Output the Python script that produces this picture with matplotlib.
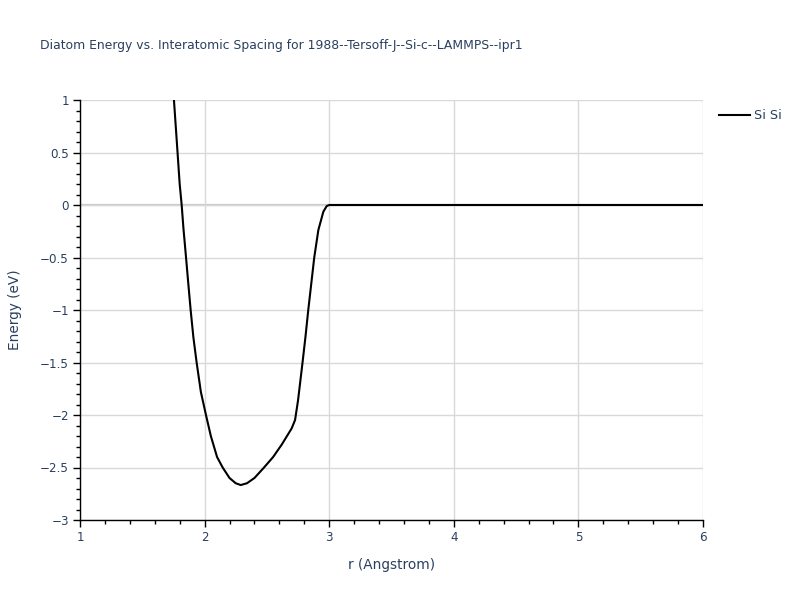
import matplotlib
matplotlib.use("Agg")
import matplotlib.pyplot as plt
from matplotlib.ticker import MultipleLocator, FuncFormatter

r_vals = [1.754, 1.78, 1.80, 1.816, 1.83, 1.851, 1.87, 1.888, 1.91, 1.936, 1.97, 2.011,
          2.05, 2.10, 2.145, 2.20, 2.25, 2.29, 2.34, 2.40, 2.471, 2.55, 2.62, 2.699,
          2.726, 2.75, 2.786, 2.81, 2.832, 2.856, 2.880, 2.913, 2.953, 2.98, 3.0, 6.0]
energy_vals = [1.0, 0.55, 0.20, 0.0, -0.22, -0.5, -0.76, -1.0, -1.26, -1.5, -1.78, -2.0,
               -2.2, -2.40, -2.5, -2.60, -2.65, -2.667, -2.65, -2.60, -2.508, -2.40, -2.28, -2.127,
               -2.048, -1.86, -1.5, -1.25, -1.0, -0.75, -0.5, -0.238, -0.064, -0.01, 0.0, 0.0]
series_name = "Si Si"
title = "Diatom Energy vs. Interatomic Spacing for 1988--Tersoff-J--Si-c--LAMMPS--ipr1"

plt.rcParams['font.family'] = ['DejaVu Sans']
text_color = "#2a3f5f"
grid_color = "#d9d9d9"

fig = plt.figure(figsize=(8, 6), dpi=100)
ax = fig.add_axes([0.1, 1 - 520 / 600, (703 - 80) / 800, 420 / 600])

ax.plot(r_vals, energy_vals, color="black", lw=1.5, label=series_name, zorder=3, clip_on=True)

ax.set_xlim(1, 6)
ax.set_ylim(-3, 1)
ax.xaxis.set_major_locator(MultipleLocator(1))
ax.xaxis.set_minor_locator(MultipleLocator(0.2))
ax.yaxis.set_major_locator(MultipleLocator(0.5))
ax.yaxis.set_minor_locator(MultipleLocator(0.1))

def fmt(v, pos):
    s = ("%g" % v)
    return s.replace("-", "\u2212")
ax.yaxis.set_major_formatter(FuncFormatter(fmt))
ax.xaxis.set_major_formatter(FuncFormatter(fmt))

ax.grid(True, which="major", color=grid_color, lw=1.0, zorder=0)
ax.axhline(0, color="#c8c8c8", lw=1.6, zorder=1)
for s in ["top", "right"]:
    ax.spines[s].set_visible(False)
for s in ["left", "bottom"]:
    ax.spines[s].set_color("black")
    ax.spines[s].set_linewidth(1.0)

ax.tick_params(which="major", direction="out", length=5, width=1, color="black",
               labelsize=8.6, labelcolor=text_color, pad=3)
ax.tick_params(which="minor", direction="out", length=3, width=1, color="black")

ax.set_xlabel("r (Angstrom)", fontsize=9.8, color=text_color, labelpad=10)
ax.set_ylabel("Energy (eV)", fontsize=9.8, color=text_color, labelpad=13)

fig.text(40 / 800, 1 - 46 / 600, title, fontsize=8.95, color=text_color, va="center", ha="left")

leg = fig.legend(loc="upper left", bbox_to_anchor=(714 / 800, 1 - 104 / 600), frameon=False,
                 fontsize=9.2, handlelength=2.4, handletextpad=0.35, borderaxespad=0)
for t in leg.get_texts():
    t.set_color(text_color)

fig.savefig("out.png", dpi=100)
